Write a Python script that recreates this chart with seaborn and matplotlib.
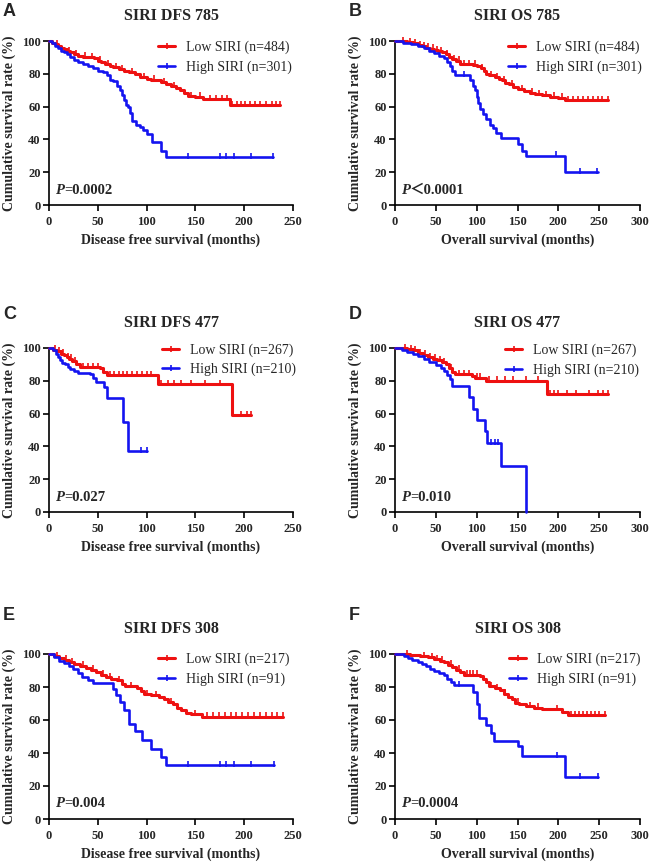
import numpy as np
import pandas as pd
import matplotlib
matplotlib.use("Agg")
import matplotlib.pyplot as plt
import seaborn as sns
from matplotlib.lines import Line2D

# ---------------- data ----------------
# Panel A: SIRI DFS 785
a_low_t = [0, 3, 6, 9, 12, 15, 18, 22, 26, 30, 35, 40, 46, 50, 53, 57, 62, 66, 72, 77, 82, 88, 93, 100, 105, 110, 115, 120, 125, 130, 134, 138, 142, 150, 158, 185, 237]
a_low_s = [100, 99, 98, 97, 96, 95, 94, 93, 92, 91, 90.5, 90, 89.5, 88, 87, 86, 85, 84, 83, 82, 81, 80, 78, 77, 76.5, 76, 75, 74, 72.5, 71.5, 70, 68, 66.5, 66, 64.5, 61, 61]
a_high_t = [0, 3, 6, 9, 12, 15, 18, 22, 26, 30, 35, 40, 45, 50, 55, 59, 62, 66, 70, 73, 75, 77, 79, 81, 83, 85, 89, 93, 96, 100, 106, 115, 120, 229]
a_high_s = [100, 98.5, 97, 95.5, 94, 93, 92, 90.5, 88.5, 87, 86, 85, 83.5, 82, 81, 79, 76.5, 75.5, 72.5, 70, 67, 64, 61, 59.5, 56, 51, 49, 47.5, 45.5, 43.5, 38.5, 33, 29, 29]
a_low_cens = [8, 20, 28, 37, 44, 52, 60, 69, 75, 85, 97, 108, 118, 128, 145, 155, 165, 171, 177, 182, 188, 193, 197, 201, 206, 211, 216, 222, 228, 233, 237]
a_high_cens = [142, 175, 181, 190, 207, 229]

# Panel B: SIRI OS 785
b_low_t = [0, 15, 22, 28, 33, 38, 43, 48, 53, 58, 62, 66, 70, 75, 80, 95, 100, 105, 109, 112, 115, 122, 127, 131, 135, 140, 145, 150, 158, 165, 172, 180, 190, 200, 208, 261]
b_low_s = [100, 99.3, 98.5, 97.5, 96.8, 96, 95.3, 94.5, 94, 93, 92, 90.5, 89, 88, 86, 85.5, 84.5, 83.5, 82, 80, 79, 78, 77, 76, 74.5, 73.5, 72, 70.5, 69.5, 68.5, 67.5, 67, 66, 65.5, 64, 64]
b_high_t = [0, 10, 20, 28, 35, 42, 48, 54, 60, 64, 67, 70, 73, 92, 95, 98, 100, 102, 104, 108, 112, 116, 120, 124, 130, 151, 155, 160, 208, 249]
b_high_s = [100, 99, 98, 97, 95.5, 94, 92.5, 91, 89.5, 87, 85, 81.5, 79, 76, 72.5, 70, 66, 62, 58.5, 55.5, 52.5, 49, 47, 44, 41, 37, 33, 30, 20, 20]
b_low_cens = [10, 18, 25, 31, 36, 41, 46, 51, 56, 64, 72, 78, 85, 90, 98, 107, 118, 125, 133, 143, 155, 168, 176, 185, 195, 204, 212, 218, 224, 230, 236, 242, 248, 254, 261]
b_high_cens = [84, 197, 226, 247]

# Panel C: SIRI DFS 477
c_low_t = [0, 4, 8, 12, 15, 18, 21, 24, 28, 32, 52, 55, 59, 112, 187, 207]
c_low_s = [100, 99, 98, 96.5, 95.5, 94.5, 93.5, 92, 90.5, 88.5, 87.5, 85.5, 83.5, 78, 59, 59]
c_high_t = [0, 4, 7, 9, 11, 13, 16, 19, 22, 26, 30, 42, 45, 48, 56, 59, 76, 81, 100]
c_high_s = [100, 98.5, 96.5, 94.5, 92.5, 91, 90, 88.5, 87, 86, 85, 84, 81.5, 79.5, 76.5, 69.5, 55, 37, 37]
c_low_cens = [6, 10, 14, 19, 23, 27, 35, 40, 45, 50, 62, 67, 72, 76, 80, 85, 90, 95, 100, 105, 115, 122, 128, 135, 145, 160, 175, 197, 203, 207]
c_high_cens = [94, 100]

# Panel D: SIRI OS 477
d_low_t = [0, 15, 22, 28, 34, 40, 46, 52, 58, 62, 66, 70, 74, 94, 98, 111, 186, 261]
d_low_s = [100, 99.5, 98.5, 97, 96, 94.5, 93.5, 92.5, 91.5, 90, 87.5, 85.5, 84, 83, 82, 80, 72, 72]
d_high_t = [0, 8, 15, 22, 28, 35, 42, 50, 56, 60, 64, 67, 70, 90, 96, 100, 110, 113, 130, 161]
d_high_s = [100, 98.5, 97.5, 96.5, 95, 93, 91.5, 89.5, 88, 86, 83.5, 81, 77, 70, 63, 56, 49.5, 42, 28, 0]
d_low_cens = [12, 19, 25, 31, 37, 43, 49, 55, 60, 68, 78, 84, 90, 100, 104, 115, 125, 135, 145, 160, 175, 190, 195, 200, 210, 222, 237, 248, 255, 261]
d_high_cens = [118, 122, 126]

# Panel E: SIRI DFS 308
e_low_t = [0, 5, 10, 15, 20, 26, 32, 38, 43, 48, 53, 58, 64, 70, 75, 78, 90, 94, 97, 105, 113, 118, 122, 127, 131, 135, 140, 146, 157, 240]
e_low_s = [100, 98.5, 97.5, 96.5, 95, 94, 93, 91.5, 90.5, 89, 87.5, 86, 85, 84, 82, 80.5, 79.5, 77.5, 75.5, 75, 74, 72.5, 71, 69.5, 67.5, 66, 64.5, 63.5, 62, 62]
e_high_t = [0, 5, 10, 15, 20, 25, 30, 34, 40, 45, 66, 69, 73, 77, 82, 88, 95, 105, 115, 120, 231]
e_high_s = [100, 98, 96, 94.5, 93, 91, 88.5, 86, 84, 82.5, 79, 75, 71, 66, 57.5, 53.5, 48, 42.5, 37.5, 32.5, 32.5]
e_low_cens = [8, 17, 24, 35, 45, 55, 62, 72, 84, 100, 110, 125, 150, 162, 168, 174, 180, 186, 192, 198, 204, 210, 216, 222, 228, 234, 240]
e_high_cens = [142, 175, 181, 190, 207, 231]

# Panel F: SIRI OS 308
f_low_t = [0, 18, 30, 40, 48, 55, 60, 65, 70, 75, 80, 84, 104, 108, 112, 115, 122, 128, 133, 138, 143, 147, 152, 160, 170, 180, 204, 212, 257]
f_low_s = [100, 99.5, 98.5, 98, 97, 96, 95, 93.5, 92, 90.5, 89, 87.5, 86.5, 85, 83, 80.5, 79.5, 78, 76, 74, 72.5, 70.5, 69.5, 68.5, 67.5, 66.5, 65, 63, 63]
f_high_t = [0, 11, 16, 21, 28, 33, 38, 43, 48, 54, 60, 64, 68, 72, 96, 100, 103, 112, 117, 121, 151, 155, 208, 249]
f_high_s = [100, 98.5, 97.5, 96.5, 95, 94, 92.5, 91, 90, 88.5, 87, 85, 83, 81, 77, 70, 61, 57, 52, 47, 44, 38, 25.5, 25.5]
f_low_cens = [15, 35, 45, 52, 58, 68, 78, 88, 92, 96, 100, 118, 125, 135, 150, 165, 175, 198, 215, 220, 225, 230, 235, 240, 245, 250, 257]
f_high_cens = [78, 198, 226, 249]

titles = ["SIRI DFS 785", "SIRI OS 785", "SIRI DFS 477", "SIRI OS 477", "SIRI DFS 308", "SIRI OS 308"]
letters = ["A", "B", "C", "D", "E", "F"]
xlabels = ["Disease free survival (months)", "Overall survival (months)"] * 3
xmaxes = [250, 300, 250, 300, 250, 300]
low_labels = ["Low SIRI (n=484)", "Low SIRI (n=484)", "Low SIRI (n=267)", "Low SIRI (n=267)", "Low SIRI (n=217)", "Low SIRI (n=217)"]
high_labels = ["High SIRI (n=301)", "High SIRI (n=301)", "High SIRI (n=210)", "High SIRI (n=210)", "High SIRI (n=91)", "High SIRI (n=91)"]
p_ops = ["=", "＜", "=", "=", "=", "="]
p_vals = ["0.0002", "0.0001", "0.027", "0.010", "0.004", "0.0004"]

curves = [
    (a_low_t, a_low_s, a_high_t, a_high_s, a_low_cens, a_high_cens),
    (b_low_t, b_low_s, b_high_t, b_high_s, b_low_cens, b_high_cens),
    (c_low_t, c_low_s, c_high_t, c_high_s, c_low_cens, c_high_cens),
    (d_low_t, d_low_s, d_high_t, d_high_s, d_low_cens, d_high_cens),
    (e_low_t, e_low_s, e_high_t, e_high_s, e_low_cens, e_high_cens),
    (f_low_t, f_low_s, f_high_t, f_high_s, f_low_cens, f_high_cens),
]

# ---------------- style ----------------
sns.set_theme(style="ticks")
plt.rcParams["font.family"] = ["Liberation Serif", "DejaVu Serif"]
plt.rcParams["axes.linewidth"] = 1.2

RED = "#EE1111"
BLUE = "#1414F0"
W, H = 652, 863
fig = plt.figure(figsize=(W / 100, H / 100), dpi=100)

# axes rectangles in pixels: left, top, right, bottom
rects = [(49, 41, 293, 205), (395, 41, 640, 205),
         (49, 348, 293, 512), (395, 348, 640, 512),
         (49, 654, 293, 819), (395, 654, 640, 819)]
leg_pos = [(0.447, 1.0), (0.461, 1.0), (0.463, 1.03), (0.449, 1.025), (0.447, 1.01), (0.465, 1.01)]
letter_xy = [(3, 3), (349, 3), (3, 306), (349, 306), (3, 607), (349, 607)]


def surv_at(tt, ss, x):
    idx = np.searchsorted(np.asarray(tt), np.asarray(x), side="right") - 1
    idx = np.clip(idx, 0, len(ss) - 1)
    return np.asarray(ss)[idx]


for i in range(6):
    l, t, r, b = rects[i]
    ax = fig.add_axes([l / W, 1 - b / H, (r - l) / W, (b - t) / H])
    lt, ls, ht, hs, lc, hc = curves[i]
    df_low = pd.DataFrame({"time": lt, "surv": ls})
    df_high = pd.DataFrame({"time": ht, "surv": hs})
    sns.lineplot(data=df_low, x="time", y="surv", estimator=None, sort=False,
                 drawstyle="steps-post", color=RED, lw=2.2, ax=ax, clip_on=False, zorder=3)
    sns.lineplot(data=df_high, x="time", y="surv", estimator=None, sort=False,
                 drawstyle="steps-post", color=BLUE, lw=1.9, ax=ax, clip_on=False, zorder=4)
    sns.scatterplot(x=lc, y=surv_at(lt, ls, lc) + 0.8, marker="|", s=22, color=RED,
                    linewidth=1.2, ax=ax, clip_on=False, zorder=3)
    sns.scatterplot(x=hc, y=surv_at(ht, hs, hc) + 0.8, marker="|", s=22, color=BLUE,
                    linewidth=1.2, ax=ax, clip_on=False, zorder=4)

    ax.set_xlim(0, xmaxes[i])
    ax.set_ylim(0, 100)
    ax.set_xticks(np.arange(0, xmaxes[i] + 1, 50))
    ax.set_yticks(np.arange(0, 101, 20))
    sns.despine(ax=ax)
    ax.spines["left"].set_color("black")
    ax.spines["bottom"].set_color("black")
    ax.tick_params(direction="out", length=4, width=1.2, color="black", labelsize=9, pad=2)
    ax.tick_params(axis="x", pad=4)
    for lab in ax.get_xticklabels() + ax.get_yticklabels():
        lab.set_fontweight("bold")
    ax.set_xlabel(xlabels[i], fontsize=10, fontweight="bold", labelpad=4)
    ax.set_ylabel("Cumulative survival rate (%)", fontsize=10, fontweight="bold", labelpad=4)
    ax.set_title(titles[i], fontsize=11.5, fontweight="bold", pad=15)

    handles = [Line2D([], [], color=RED, lw=2.2, marker="|", ms=5, mew=1.2),
               Line2D([], [], color=BLUE, lw=1.9, marker="|", ms=5, mew=1.2)]
    ax.legend(handles, [low_labels[i], high_labels[i]], loc="upper left",
              bbox_to_anchor=leg_pos[i], frameon=False, fontsize=10,
              handlelength=1.25, handletextpad=0.75, labelspacing=0.45,
              borderpad=0, borderaxespad=0)

    tp = ax.text(0.025, 0.07, "P", transform=ax.transAxes, fontsize=10.5,
                 fontweight="bold", style="italic", ha="left", va="baseline")
    ax.annotate(p_ops[i] + p_vals[i], xy=(1, 0), xycoords=tp, ha="left", va="bottom",
                fontsize=10.5, fontweight="bold",
                family=["Liberation Serif", "Noto Sans CJK SC"])

    lx, ly = letter_xy[i]
    fig.text(lx / W, 1 - ly / H, letters[i], fontsize=13, fontweight="bold",
             family=["Liberation Sans", "DejaVu Sans"], ha="left", va="top")

fig.savefig("out.png", dpi=100)
